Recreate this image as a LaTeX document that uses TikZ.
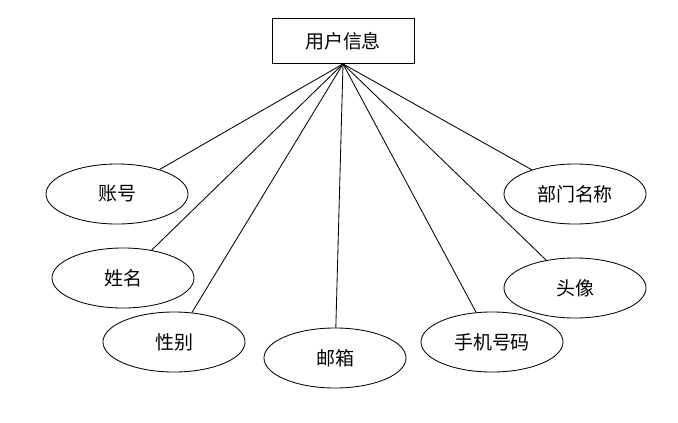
\documentclass[tikz,border=0pt]{standalone}
\usepackage{fontspec}
\newfontfamily\cjk{Noto Sans CJK SC}
\usetikzlibrary{shapes.geometric}

\begin{document}
\begin{tikzpicture}[x=0.025cm, y=-0.025cm,
    entity/.style={draw, line width=0.6pt, rectangle, minimum width=3.55cm,
        minimum height=1.125cm, inner sep=0pt, font=\cjk\fontsize{13.5}{15}\selectfont},
    attr/.style={draw, line width=0.6pt, ellipse, minimum width=3.55cm,
        minimum height=1.5cm, inner sep=0pt, font=\cjk\fontsize{13.5}{15}\selectfont},
    link/.style={line width=0.6pt}]

    %% User information entity

    \useasboundingbox (0,0) rectangle (678,422);

    % Entity
    \node[entity] (user) at (343,41) {用户信息};

    % Attributes
    \node[attr] (account) at (117,194) {账号};
    \node[attr] (name)    at (123,278) {姓名};
    \node[attr] (gender)  at (174,342) {性别};
    \node[attr] (email)   at (335,358) {邮箱};
    \node[attr] (phone)   at (492,342) {手机号码};
    \node[attr] (avatar)  at (575,288) {头像};
    \node[attr] (dept)    at (575,194) {部门名称};

    % Links
    \foreach \a in {account,name,gender,email,phone,avatar,dept}
        \draw[link] (user.south) -- (\a);

\end{tikzpicture}
\end{document}
